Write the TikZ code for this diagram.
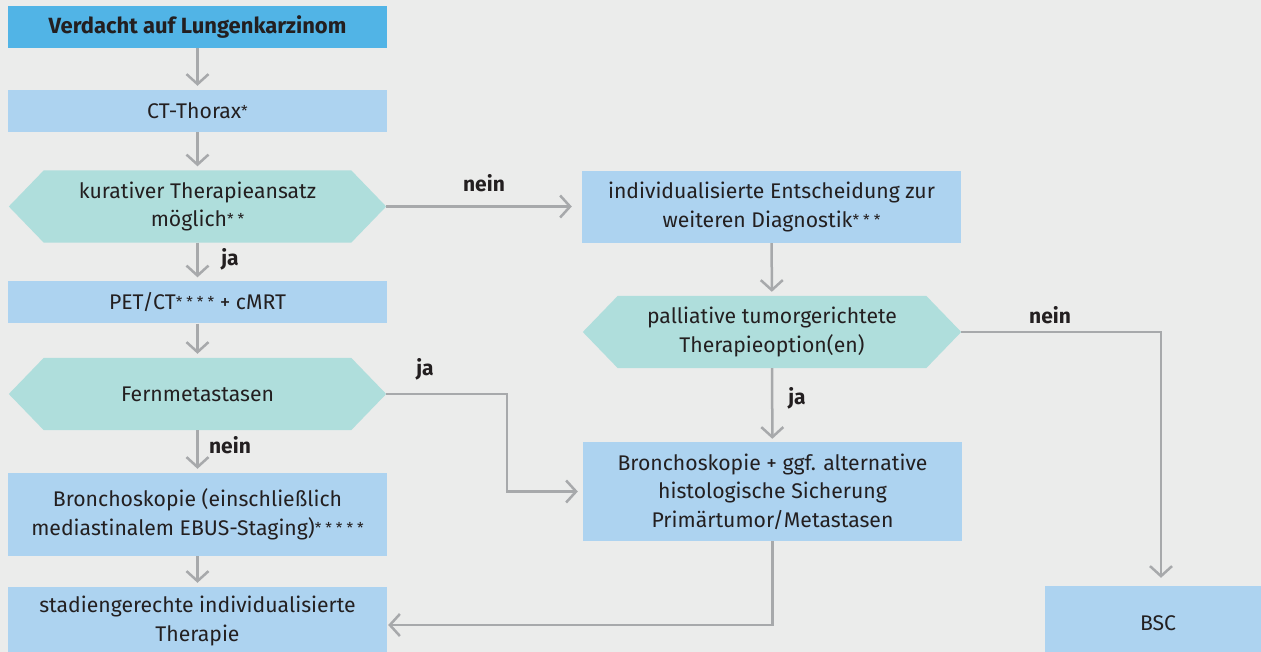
\documentclass[tikz,border=0pt]{standalone}
\usepackage{fontspec}
\setmainfont{Fira Sans}
\usetikzlibrary{arrows.meta,backgrounds}
\definecolor{bg}{HTML}{EBECEB}
\definecolor{headblue}{HTML}{51B4E6}
\definecolor{boxblue}{HTML}{ADD3F0}
\definecolor{hexteal}{HTML}{AFDEDC}
\definecolor{conn}{HTML}{A7A9AB}
\definecolor{ink}{HTML}{231F20}

% small raised footnote asterisks, loosely spaced
\newcommand\fs{\hspace{4pt}}
\newcommand\fnstars[1]{\raisebox{2pt}{\fontsize{15}{15}\selectfont #1}}
% teal hexagon behind a decision node
\newcommand\hexfill[1]{\fill[hexteal] (#1.west) -- ([xshift=35pt]#1.north west) -- ([xshift=-35pt]#1.north east) -- (#1.east) -- ([xshift=-35pt]#1.south east) -- ([xshift=35pt]#1.south west) -- cycle;}

\begin{document}
\begin{tikzpicture}[x=1pt,y=-1pt,
  every node/.style={text=ink, font=\fontsize{21.2}{28.5}\selectfont, align=center, inner sep=0pt},
  box/.style={fill=boxblue, minimum width=379pt, minimum height=#1},
  box/.default=42pt,
  hexnode/.style={minimum width=377pt, minimum height=72pt},
  flow/.style={draw=conn, line width=2.5pt, -{Straight Barb[length=10pt,width=22pt,line width=2.5pt]}},
  lbl/.style={font=\fontsize{21}{24}\selectfont\bfseries}
]
\useasboundingbox (0,0) rectangle (1261,652);
\clip (0,0) rectangle (1261,652);

% left column
\node[box, fill=headblue, font=\fontsize{22}{24}\selectfont\bfseries] (start) at (197.5,27) {Verdacht auf Lungenkarzinom};
\node[box] (ct) at (197.5,111) {CT-Thorax\fnstars{*}};
\node[hexnode] (cur) at (197.5,206.5) {kurativer Therapieansatz\\möglich\fnstars{*\fs*}};
\node[box] (pet) at (197.5,302.5) {PET/CT\fnstars{*\fs*\fs*\fs*} + cMRT};
\node[hexnode] (meta) at (197.5,394) {Fernmetastasen};
\node[box=83pt] (bronl) at (197.5,514.5) {Bronchoskopie (einschließlich\\mediastinalem EBUS-Staging)\fnstars{*\fs*\fs*\fs*\fs*}};
\node[box=68pt] (stage) at (197.5,621) {stadiengerechte individualisierte\\Therapie};

% right column
\node[box=72pt] (indiv) at (771.5,207) {individualisierte Entscheidung zur\\weiteren Diagnostik\fnstars{*\fs*\fs*}};
\node[hexnode, minimum width=378pt] (pall) at (772,332) {palliative tumorgerichtete\\Therapieoption(en)};
\node[box=99pt] (bronr) at (772.5,491.5) {Bronchoskopie + ggf. alternative\\histologische Sicherung\\Primärtumor/Metastasen};
\node[box=74pt, minimum width=226pt] (bsc) at (1158,623) {BSC};

% page background first, then the hexagons, all below the text
\begin{scope}[on background layer]
  \fill[bg] (0,0) rectangle (1261,652);
  \hexfill{cur}
  \hexfill{meta}
  \hexfill{pall}
\end{scope}

% connectors
\draw[flow, shorten >=4pt] (start) -- (ct);
\draw[flow, shorten >=4pt] (ct) -- (cur);
\draw[flow, shorten >=4pt] (cur) -- (pet);
\draw[flow, shorten >=4pt] (pet) -- (meta);
\draw[flow, shorten >=4pt] (meta) -- (bronl);
\draw[flow, shorten >=4pt] (bronl) -- (stage);
\draw[flow, shorten >=10pt] (cur.east) -- (cur.east -| indiv.west);
\draw[flow, shorten >=4pt] (indiv) -- (pall);
\draw[flow, shorten >=3pt] (pall) -- (bronr);
\coordinate (mbend) at (507,394);
\draw[flow, shorten >=5pt] (meta.east) -- (mbend) |- (bronr.west);
\coordinate (pbend) at (1161,332);
\draw[flow, shorten >=8pt] (pall.east) -- (pbend) -- (pbend |- bsc.north);
\coordinate (sbend) at (772.5,625);
\draw[flow, shorten >=1pt] (bronr.south) -- (sbend) -- (sbend -| stage.east);

% branch labels
\node[lbl] (ja1) at (230,259) {ja};
\node[lbl] (nein1) at (484,183) {nein};
\node[lbl] (ja2) at (425,369) {ja};
\node[lbl] (nein2) at (230,445) {nein};
\node[lbl] (ja3) at (797,398) {ja};
\node[lbl] (nein3) at (1050,315) {nein};
\end{tikzpicture}
\end{document}
